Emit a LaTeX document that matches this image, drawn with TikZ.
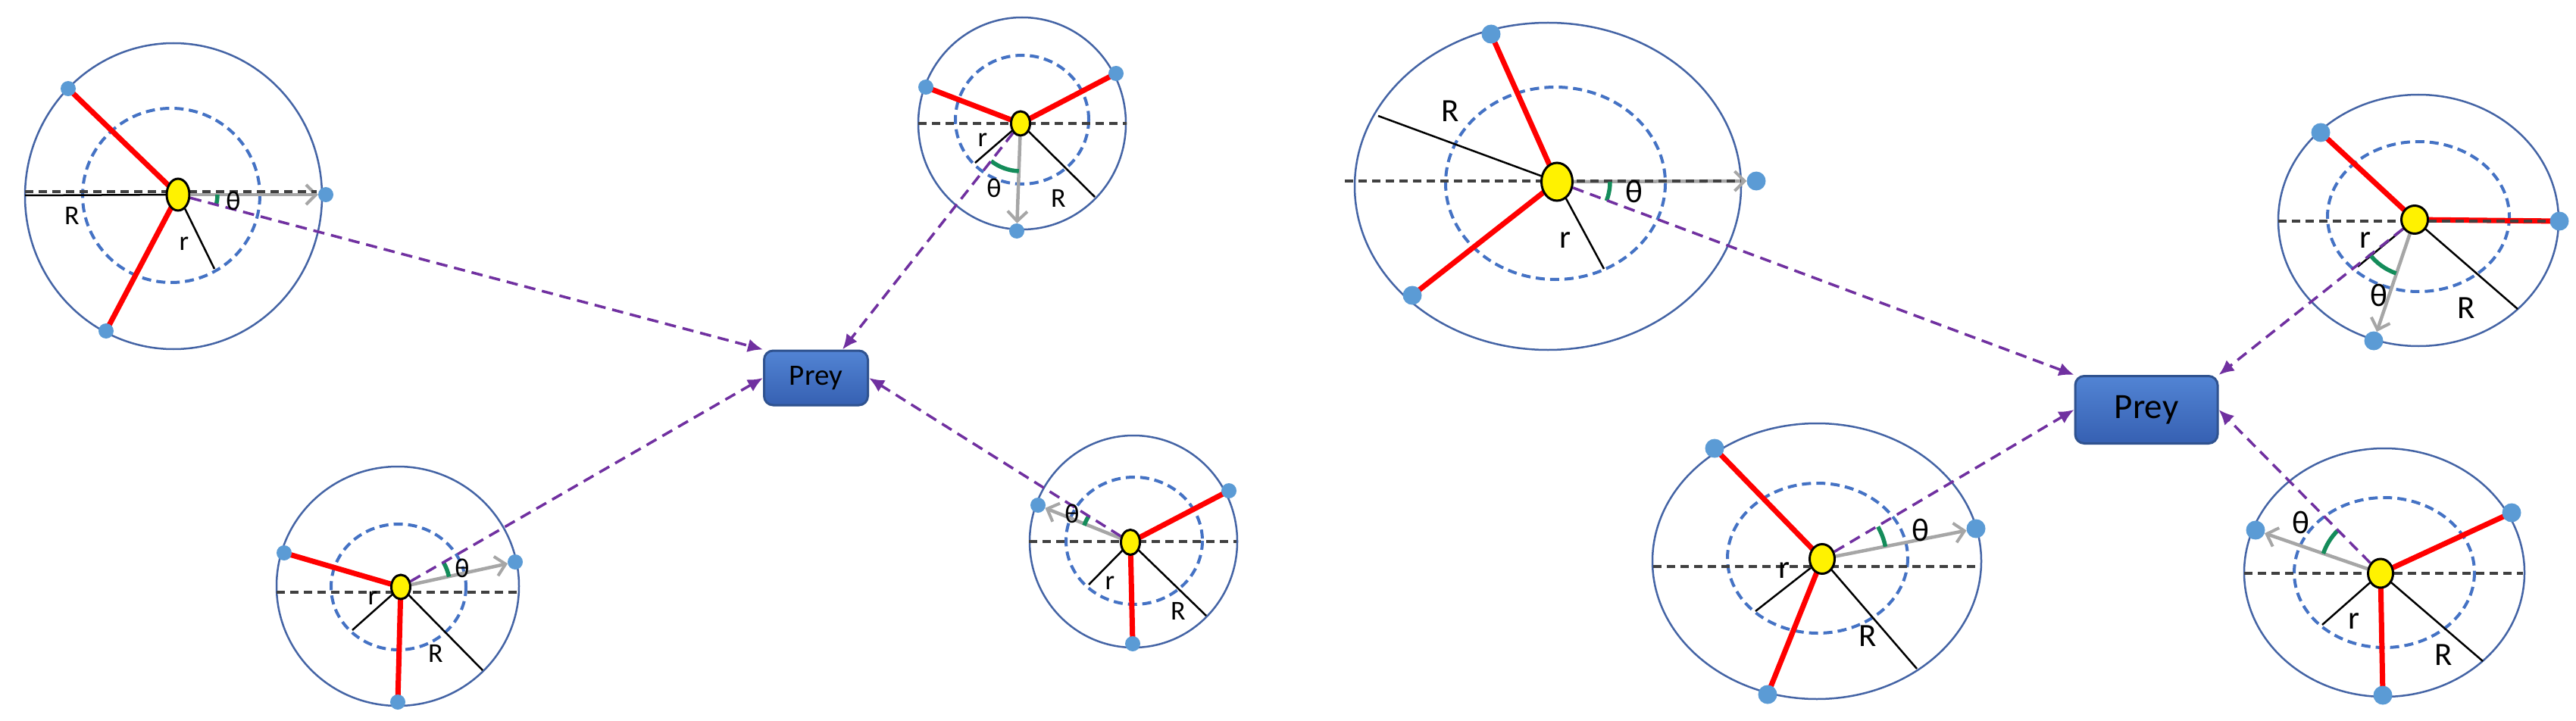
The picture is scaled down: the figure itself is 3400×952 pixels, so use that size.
\documentclass[tikz,border=0pt]{standalone}
\usepackage{fontspec}
\setmainfont{Carlito}
\usetikzlibrary{shapes.geometric,arrows.meta}
\pgfdeclarelayer{back}
\pgfsetlayers{back,main}
\definecolor{ocol}{RGB}{68,100,165}
\definecolor{icol}{RGB}{68,114,196}
\definecolor{dcol}{RGB}{91,155,213}
\definecolor{pcol}{RGB}{112,48,160}
\definecolor{gcol}{RGB}{166,166,166}
\definecolor{hcol}{RGB}{64,64,64}
\definecolor{grn}{RGB}{20,140,90}
\definecolor{ptop}{RGB}{82,132,212}
\definecolor{pbot}{RGB}{54,96,178}
\definecolor{pbrd}{RGB}{47,82,143}
\begin{document}
\begin{tikzpicture}[x=1pt,y=-1pt,
  outring/.style={draw=ocol,line width=2.5pt},
  inring/.style={draw=icol,line width=4pt,dash pattern=on 12pt off 7pt},
  hline/.style={draw=hcol,line width=3.5pt,dash pattern=on 11pt off 7pt},
  rline/.style={draw=red,line width=7pt},
  bline/.style={draw=black,line width=2.5pt},
  garrow/.style={draw=gcol,line width=4.5pt,-{Straight Barb[length=13pt,width=26pt,line width=4pt]}},
  parrow/.style={draw=pcol,line width=3.5pt,dash pattern=on 15pt off 9pt,-{Latex[length=20pt,width=18pt]}},
  garc/.style={draw=grn,line width=5.5pt},
  yel/.style={ellipse,draw=black,fill=yellow,line width=3pt,inner sep=0pt},
  bdotL/.style={circle,fill=dcol,inner sep=0pt,minimum size=20pt},
  bdotR/.style={circle,fill=dcol,inner sep=0pt,minimum size=25pt},
  labL/.style={inner sep=0pt,font=\fontsize{36}{36}\selectfont},
  labR/.style={inner sep=0pt,font=\fontsize{43}{43}\selectfont},
  preybox/.style={rectangle,rounded corners=12pt,draw=pbrd,line width=3pt,top color=ptop,bottom color=pbot,text=black}
]
\useasboundingbox (0,0) rectangle (3400,952);

% ---------- prey nodes ----------
\node[preybox,minimum width=137pt,minimum height=72pt,font=\fontsize{39}{39}\selectfont] (pL) at (1077,499) {Prey};
\node[preybox,minimum width=188pt,minimum height=89pt,font=\fontsize{47}{47}\selectfont] (pR) at (2833,541) {Prey};

% ---------- predator A ----------
\node[yel,minimum width=30pt,minimum height=42pt] (yA) at (235,257) {};
\node[bdotL] (dA1) at (90,117) {};
\node[bdotL] (dA2) at (140,437) {};
\node[bdotL] (dA3) at (430,257) {};
\coordinate (rA) at (283,355);
\coordinate (RA) at (33,258);
\node[labL] (tRA) at (95,285) {R};
\node[labL] (trA) at (243,322) {r};
\node[labL] (ttA) at (308,265) {θ};

% ---------- predator B ----------
\node[yel,minimum width=25pt,minimum height=32pt] (yB) at (1347,163) {};
\node[bdotL] (dB1) at (1222,115) {};
\node[bdotL] (dB2) at (1473,97) {};
\node[bdotL] (dB3) at (1342,305) {};
\coordinate (rB) at (1287,215);
\coordinate (RB) at (1445,260);
\node[labL] (trB) at (1297,185) {r};
\node[labL] (ttB) at (1312,248) {θ};
\node[labL] (tRB) at (1397,262) {R};

% ---------- predator C ----------
\node[yel,minimum width=25pt,minimum height=32pt] (yC) at (529,775) {};
\node[bdotL] (dC1) at (375,730) {};
\node[bdotL] (dC2) at (525,927) {};
\node[bdotL] (dC3) at (680,742) {};
\coordinate (rC) at (465,832);
\coordinate (RC) at (637,885);
\node[labL] (trC) at (492,790) {r};
\node[labL] (tRC) at (575,863) {R};
\node[labL] (ttC) at (610,750) {θ};

% ---------- predator D ----------
\node[yel,minimum width=25pt,minimum height=33pt] (yD) at (1492,716) {};
\node[bdotL] (dD1) at (1622,648) {};
\node[bdotL] (dD2) at (1495,850) {};
\node[bdotL] (dD3) at (1370,667) {};
\coordinate (rD) at (1437,772);
\coordinate (RD) at (1592,813);
\node[labL] (ttD) at (1415,678) {θ};
\node[labL] (trD) at (1465,770) {r};
\node[labL] (tRD) at (1555,807) {R};

% ---------- predator E ----------
\node[yel,minimum width=41pt,minimum height=50pt] (yE) at (2055,240) {};
\node[bdotR] (dE1) at (1968,45) {};
\node[bdotR] (dE2) at (1864,390) {};
\node[bdotR] (dE3) at (2318,239) {};
\coordinate (RE) at (1819,153);
\coordinate (rE) at (2117,355);
\node[labR] (tRE) at (1914,147) {R};
\node[labR] (trE) at (2066,317) {r};
\node[labR] (ttE) at (2157,253) {θ};

% ---------- predator F ----------
\node[yel,minimum width=35pt,minimum height=37pt] (yF) at (3187,290) {};
\node[bdotR] (dF1) at (3063,175) {};
\node[bdotR] (dF2) at (3378,292) {};
\node[bdotR] (dF3) at (3133,450) {};
\coordinate (rF) at (3112,352);
\coordinate (RF) at (3323,408);
\node[labR] (trF) at (3122,317) {r};
\node[labR] (ttF) at (3140,390) {θ};
\node[labR] (tRF) at (3255,407) {R};

% ---------- predator G ----------
\node[yel,minimum width=33pt,minimum height=39pt] (yG) at (2405,738) {};
\node[bdotR] (dG1) at (2263,592) {};
\node[bdotR] (dG2) at (2333,917) {};
\node[bdotR] (dG3) at (2608,698) {};
\coordinate (rG) at (2317,807);
\coordinate (RG) at (2530,883);
\node[labR] (trG) at (2355,753) {r};
\node[labR] (tRG) at (2465,840) {R};
\node[labR] (ttG) at (2535,700) {θ};

% ---------- predator H ----------
\node[yel,minimum width=33pt,minimum height=38pt] (yH) at (3142,757) {};
\node[bdotR] (dH1) at (3315,677) {};
\node[bdotR] (dH2) at (3145,918) {};
\node[bdotR] (dH3) at (2977,700) {};
\coordinate (rH) at (3065,825);
\coordinate (RH) at (3277,873);
\node[labR] (ttH) at (3037,690) {θ};
\node[labR] (trH) at (3107,820) {r};
\node[labR] (tRH) at (3225,865) {R};

\begin{pgfonlayer}{back}
% outer and inner rings
\draw[outring] (229,259) ellipse [x radius=196,y radius=202];
\draw[inring] (226,258) ellipse [x radius=117,y radius=115];
\draw[outring] (1349,163) ellipse [x radius=137,y radius=140];
\draw[inring] (1349,158) ellipse [x radius=88,y radius=85];
\draw[outring] (525,774) ellipse [x radius=160,y radius=158];
\draw[inring] (526,775) ellipse [x radius=89,y radius=83];
\draw[outring] (1496,715) ellipse [x radius=137,y radius=140];
\draw[inring] (1497,714) ellipse [x radius=90,y radius=84];
\draw[outring] (2043,246) ellipse [x radius=255,y radius=216];
\draw[inring] (2053,242) ellipse [x radius=145,y radius=127];
\draw[outring] (3192,291) ellipse [x radius=185,y radius=166];
\draw[inring] (3192,286) ellipse [x radius=120,y radius=99];
\draw[outring] (2398,741) ellipse [x radius=217,y radius=182];
\draw[inring] (2399,737) ellipse [x radius=119,y radius=99];
\draw[outring] (3147,756) ellipse [x radius=185,y radius=164];
\draw[inring] (3147,756) ellipse [x radius=119,y radius=99];

% black radius lines
\foreach \p in {A,B,C,D,E,F,G,H}{
  \draw[bline] (y\p.center) -- (r\p);
  \draw[bline] (y\p.center) -- (R\p);
}
% red lines
\foreach \p in {A,B,C,D,E,F,G,H}{
  \draw[rline] (y\p.center) -- (d\p1.center);
  \draw[rline] (y\p.center) -- (d\p2.center);
}
% grey heading arrows
\draw[garrow] (yA) -- (dA3);
\draw[garrow] (yB) -- (dB3);
\draw[garrow] (yC) -- (dC3);
\draw[garrow] (yD) -- (dD3);
\draw[garrow] (yE) -- (dE3);
\draw[garrow] (yF) -- (dF3);
\draw[garrow] (yG) -- (dG3);
\draw[garrow] (yH) -- (dH3);
% dashed horizontals
\draw[hline] (33,253) -- (418,253);
\draw[hline] (1212,163) -- (1487,163);
\draw[hline] (365,782) -- (685,782);
\draw[hline] (1358,715) -- (1632,715);
\draw[hline] (1775,239) -- (2298,239);
\draw[hline] (3007,292) -- (3378,292);
\draw[hline] (2182,748) -- (2610,748);
\draw[hline] (2962,757) -- (3330,757);
% angle arcs
\draw[garc] ([shift={(0:52)}]yA.center) arc[start angle=0,end angle=15,radius=52];
\draw[garc] ([shift={(92:63)}]yB.center) arc[start angle=92,end angle=128,radius=63];
\draw[garc] ([shift={(-12:65)}]yC.center) arc[start angle=-12,end angle=-30,radius=65];
\draw[garc] ([shift={(-148:65)}]yD.center) arc[start angle=-148,end angle=-160,radius=65];
\draw[garc] ([shift={(0:70)}]yE.center) arc[start angle=0,end angle=21,radius=70];
\draw[garc] ([shift={(109:75)}]yF.center) arc[start angle=109,end angle=143,radius=75];
\draw[garc] ([shift={(-11:85)}]yG.center) arc[start angle=-11,end angle=-30,radius=85];
\draw[garc] ([shift={(-135:80)}]yH.center) arc[start angle=-135,end angle=-161,radius=80];
% purple pursuit arrows
\draw[parrow] (yA) -- (pL.north west);
\draw[parrow] (yB) -- ([xshift=35pt]pL.north);
\draw[parrow] (yC) -- (pL.west);
\draw[parrow] (yD) -- (pL.east);
\draw[parrow] (yE) -- (pR.north west);
\draw[parrow] (yF) -- (pR.north east);
\draw[parrow] (yG) -- (pR.west);
\draw[parrow] (yH) -- (pR.east);
\end{pgfonlayer}
\end{tikzpicture}
\end{document}
